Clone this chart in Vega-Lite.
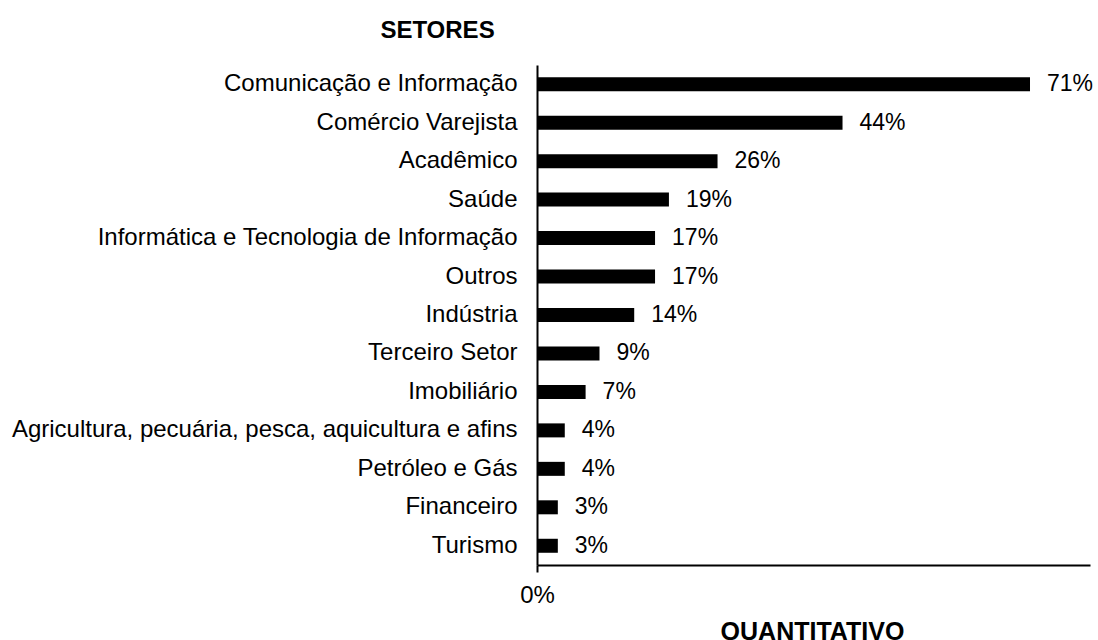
{
  "$schema": "https://vega.github.io/schema/vega-lite/v6.json",
  "autosize": {"type": "none"},
  "padding": {"left": 537, "top": 65, "right": 8, "bottom": 75},
  "width": 553,
  "height": 500,
  "background": "white",
  "config": {
    "view": {"stroke": null},
    "font": "Liberation Sans, Arial, sans-serif"
  },
  "data": {
    "values": [
      {"setor": "Comunicação e Informação", "valor": 0.71},
      {"setor": "Comércio Varejista", "valor": 0.44},
      {"setor": "Acadêmico", "valor": 0.26},
      {"setor": "Saúde", "valor": 0.19},
      {"setor": "Informática e Tecnologia de Informação", "valor": 0.17},
      {"setor": "Outros", "valor": 0.17},
      {"setor": "Indústria", "valor": 0.14},
      {"setor": "Terceiro Setor", "valor": 0.09},
      {"setor": "Imobiliário", "valor": 0.07},
      {"setor": "Agricultura, pecuária, pesca, aquicultura e afins", "valor": 0.04},
      {"setor": "Petróleo e Gás", "valor": 0.04},
      {"setor": "Financeiro", "valor": 0.03},
      {"setor": "Turismo", "valor": 0.03}
    ]
  },
  "encoding": {
    "y": {
      "field": "setor",
      "type": "nominal",
      "sort": null,
      "scale": {"paddingInner": 0.636, "paddingOuter": 0.318},
      "axis": {
        "title": "SETORES",
        "titleAngle": 0,
        "titleX": -100,
        "titleY": -28,
        "titleAlign": "center",
        "titleBaseline": "alphabetic",
        "titleFontSize": 24,
        "titleFontWeight": "bold",
        "titleColor": "black",
        "titleFont": "Liberation Sans, Arial, sans-serif",
        "labelFontSize": 24,
        "labelColor": "black",
        "labelFont": "Liberation Sans, Arial, sans-serif",
        "labelPadding": 20,
        "labelLimit": 800,
        "ticks": false,
        "domainColor": "black",
        "domainWidth": 2,
        "grid": false
      }
    },
    "x": {
      "field": "valor",
      "type": "quantitative",
      "scale": {"domain": [0, 0.7964], "nice": false},
      "axis": {
        "title": "QUANTITATIVO",
        "titleX": 275,
        "titleY": 74,
        "titleAlign": "center",
        "titleBaseline": "alphabetic",
        "titleFontSize": 25,
        "titleFontWeight": "bold",
        "titleColor": "black",
        "titleFont": "Liberation Sans, Arial, sans-serif",
        "values": [0],
        "format": ".0%",
        "labelFlush": false,
        "labelFontSize": 24,
        "labelColor": "black",
        "labelFont": "Liberation Sans, Arial, sans-serif",
        "labelPadding": 11,
        "tickSize": 7,
        "tickWidth": 2,
        "tickColor": "black",
        "domainColor": "black",
        "domainWidth": 2,
        "grid": false
      }
    }
  },
  "layer": [
    {"mark": {"type": "bar", "color": "black"}},
    {
      "mark": {"type": "text", "align": "left", "baseline": "middle", "dx": 17, "fontSize": 23, "color": "black", "font": "Liberation Sans, Arial, sans-serif"},
      "encoding": {"text": {"field": "valor", "type": "quantitative", "format": ".0%"}}
    }
  ]
}
